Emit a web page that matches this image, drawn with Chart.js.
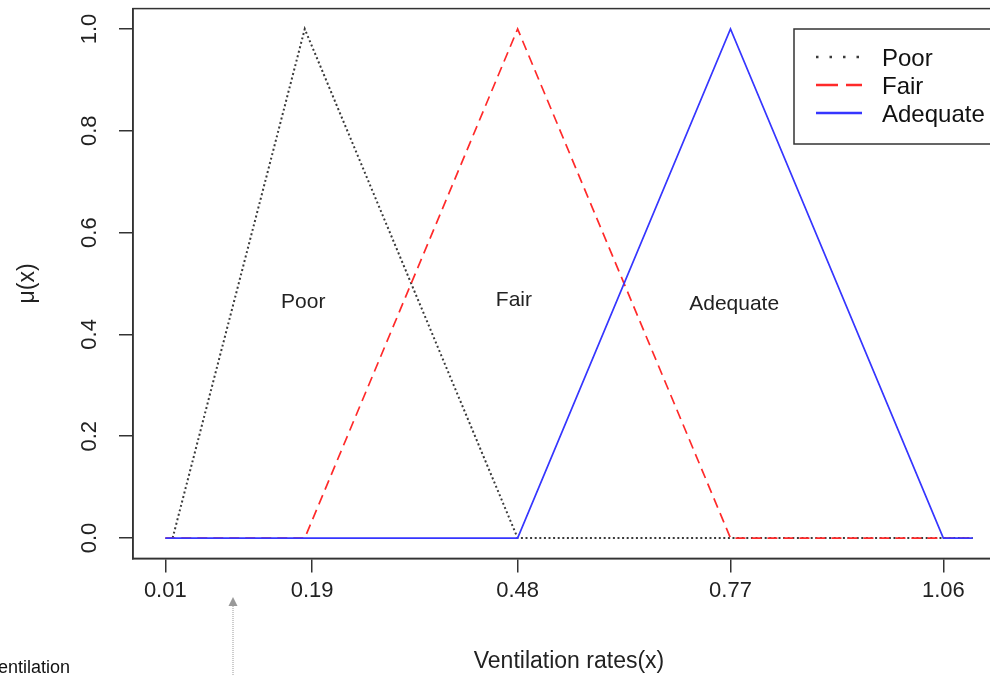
<!DOCTYPE html>
<html>
<head>
<meta charset="utf-8">
<script src="https://cdn.jsdelivr.net/npm/chart.js@4.4.0/dist/chart.umd.min.js"></script>
<style>
  html, body { margin: 0; padding: 0; background: #fff; overflow: hidden; }
  #wrap { position: relative; width: 1010px; height: 676px; }
  #note { position: absolute; left: -13px; top: 657px; font: 18px "Liberation Sans", Arial, sans-serif; color: #111; white-space: nowrap; }
</style>
</head>
<body>
<div id="wrap">
  <canvas id="myChart" width="1010" height="676"></canvas>
  <div id="note">Ventilation</div>
</div>
<script>
'use strict';
// membership functions, x = ventilation rate
let xPoor = [0.01, 0.19, 0.48, 1.1];
let yPoor = [0, 1, 0, 0];
let xFair = [0, 0.19, 0.48, 0.77, 1.1];
let yFair = [0, 0, 1, 0, 0];
let xAdequate = [0, 0.48, 0.77, 1.06, 1.1];
let yAdequate = [0, 0, 1, 0, 0];

let xTickPos = [0, 0.2, 0.48, 0.77, 1.06];
let xTickLabels = ['0.01', '0.19', '0.48', '0.77', '1.06'];
let yTicks = [0, 0.2, 0.4, 0.6, 0.8, 1.0];
let yTickLabels = ['0.0', '0.2', '0.4', '0.6', '0.8', '1.0'];

let classNames = ['Poor', 'Fair', 'Adequate'];
let classLabelX = [0.188, 0.475, 0.775];
let classLabelY = [0.464, 0.468, 0.46];

const FONT = '"Liberation Sans", Arial, sans-serif';

function toPoints(xs, ys) {
  return xs.map((v, i) => ({ x: v, y: ys[i] }));
}

// legend dashes are drawn coarser than the plot lines in the original
let legendDash = [[2.5, 11], [22, 8], []];

const extras = {
  id: 'extras',
  afterDraw(chart) {
    const ctx = chart.ctx;
    const a = chart.chartArea;
    const x = chart.scales.x;
    const y = chart.scales.y;
    ctx.save();

    // plot box
    ctx.strokeStyle = '#333';
    ctx.lineWidth = 1.5;
    ctx.setLineDash([]);
    ctx.strokeRect(a.left, a.top, a.right - a.left, a.bottom - a.top);

    // y tick labels, rotated like R
    ctx.fillStyle = '#222';
    ctx.font = '22px ' + FONT;
    ctx.textAlign = 'center';
    ctx.textBaseline = 'middle';
    for (let i = 0; i < yTicks.length; i++) {
      ctx.save();
      ctx.translate(90, y.getPixelForValue(yTicks[i]));
      ctx.rotate(-Math.PI / 2);
      ctx.fillText(yTickLabels[i], 0, 0);
      ctx.restore();
    }

    // class names inside the plot
    ctx.font = '21px ' + FONT;
    for (let i = 0; i < classNames.length; i++) {
      ctx.fillText(classNames[i], x.getPixelForValue(classLabelX[i]), y.getPixelForValue(classLabelY[i]));
    }

    // legend box (top right)
    ctx.strokeStyle = '#333';
    ctx.lineWidth = 1.5;
    ctx.strokeRect(794, 29, 206, 115);
    let rows = [57, 85, 113];
    ctx.font = '24px ' + FONT;
    ctx.textAlign = 'left';
    chart.data.datasets.forEach((ds, i) => {
      ctx.strokeStyle = ds.borderColor;
      ctx.lineWidth = 2.6;
      ctx.setLineDash(legendDash[i]);
      ctx.beginPath();
      ctx.moveTo(816, rows[i]);
      ctx.lineTo(862, rows[i]);
      ctx.stroke();
      ctx.setLineDash([]);
      ctx.fillStyle = '#111';
      ctx.fillText(ds.label, 882, rows[i] + 2);
    });

    // arrow below the axis
    ctx.fillStyle = '#999';
    ctx.beginPath();
    ctx.moveTo(233, 597);
    ctx.lineTo(228.5, 606);
    ctx.lineTo(237.5, 606);
    ctx.closePath();
    ctx.fill();
    ctx.strokeStyle = '#999';
    ctx.lineWidth = 1;
    ctx.setLineDash([1, 1]);
    ctx.beginPath();
    ctx.moveTo(233, 606);
    ctx.lineTo(233, 676);
    ctx.stroke();

    ctx.restore();
  }
};

let ctx = document.getElementById('myChart').getContext('2d');
let myChart = new Chart(ctx, {
  type: 'line',
  data: {
    datasets: [
      {
        label: 'Poor',
        data: toPoints(xPoor, yPoor),
        borderColor: '#3a3a3a',
        borderWidth: 2,
        borderDash: [2, 2.6],
        order: 3
      },
      {
        label: 'Fair',
        data: toPoints(xFair, yFair),
        borderColor: '#ff2a2a',
        borderWidth: 1.7,
        borderDash: [10, 6],
        order: 2
      },
      {
        label: 'Adequate',
        data: toPoints(xAdequate, yAdequate),
        borderColor: '#3636ff',
        borderWidth: 1.7,
        order: 1
      }
    ]
  },
  options: {
    responsive: false,
    animation: false,
    devicePixelRatio: 1,
    layout: { padding: { top: 8.6, right: 5, bottom: 0, left: 0 } },
    elements: { point: { radius: 0 }, line: { tension: 0 } },
    plugins: { legend: { display: false }, tooltip: { enabled: false } },
    scales: {
      x: {
        type: 'linear',
        min: -0.044,
        max: 1.144,
        afterBuildTicks: (s) => { s.ticks = xTickPos.map(v => ({ value: v })); },
        afterFit: (s) => { s.height = 117.6; },
        ticks: {
          autoSkip: false,
          maxRotation: 0,
          padding: 5,
          color: '#222',
          font: { family: FONT, size: 22 },
          callback: (v, i) => xTickLabels[i]
        },
        grid: { drawOnChartArea: false, drawTicks: true, tickLength: 14, color: '#333', lineWidth: 1.5 },
        border: { display: true, color: '#333', width: 1.5 },
        title: {
          display: true,
          text: 'Ventilation rates(x)',
          color: '#222',
          font: { family: FONT, size: 23 },
          padding: { top: 0, bottom: 1 }
        }
      },
      y: {
        type: 'linear',
        min: -0.04,
        max: 1.04,
        afterBuildTicks: (s) => { s.ticks = yTicks.map(v => ({ value: v })); },
        afterFit: (s) => { s.width = 133; },
        ticks: { display: false },
        grid: { drawOnChartArea: false, drawTicks: true, tickLength: 14, color: '#333', lineWidth: 1.5 },
        border: { display: true, color: '#333', width: 1.5 },
        title: {
          display: true,
          text: 'μ(x)',
          color: '#222',
          font: { family: FONT, size: 23 },
          padding: { top: 14, bottom: 0 }
        }
      }
    }
  },
  plugins: [extras]
});
</script>
</body>
</html>
